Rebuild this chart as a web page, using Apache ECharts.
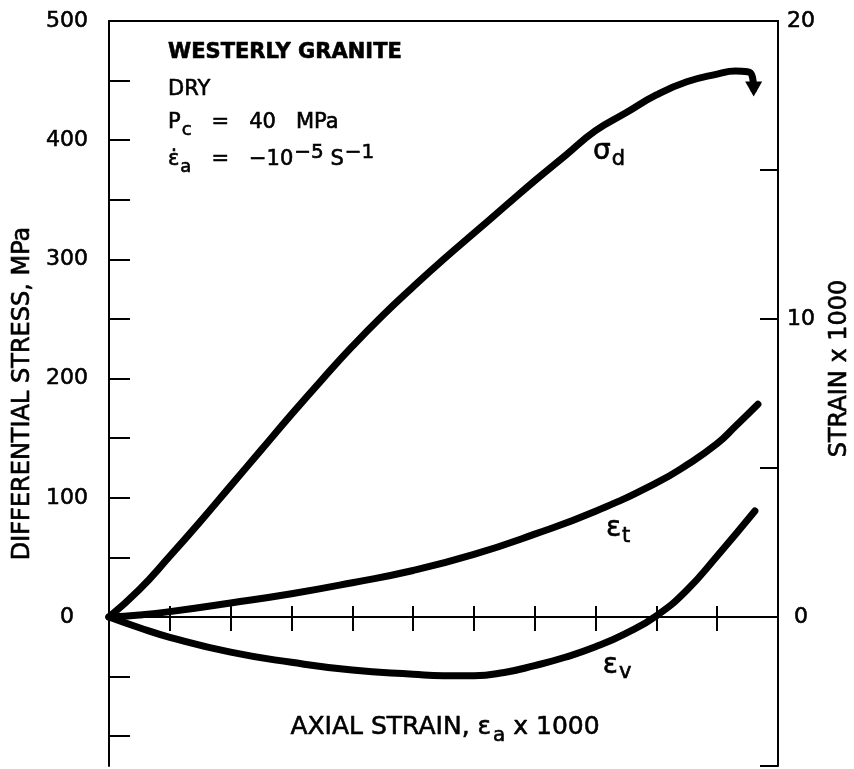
<!DOCTYPE html>
<html>
<head>
<meta charset="utf-8">
<script src="https://cdn.jsdelivr.net/npm/echarts@6/dist/echarts.min.js"></script>
<style>
  html, body { margin: 0; padding: 0; background: #fff; }
  #chart { width: 854px; height: 769px; }
</style>
</head>
<body>
<div id="chart"></div>
<script>
// Westerly granite, dry, Pc = 40 MPa: differential stress and strains vs axial strain (strains x 1000)

// Differential stress (MPa) against axial strain; the last point carries the failure arrow
const stressAxial  = [0, 0.5, 1, 1.5, 2, 2.5, 3, 3.5, 4, 4.5, 5, 5.5, 6, 6.5, 7, 7.5, 8, 8.5, 9, 9.5, 10, 10.3, 10.5, 10.58, 10.6];
const stressValues = [0, 23, 51, 80, 110, 140, 170, 199, 227, 253, 277, 300, 322, 344, 366, 387, 408, 423, 438, 449, 455.5, 458, 457.5, 453, 443];

// Lateral strain
const lateralAxial  = [0, 0.5, 1, 2, 3, 4, 5, 6, 7, 8, 9, 9.5, 10, 10.3, 10.67];
const lateralStrain = [0, 0.07, 0.18, 0.47, 0.78, 1.15, 1.56, 2.1, 2.78, 3.55, 4.5, 5.1, 5.82, 6.4, 7.14];

// Volumetric strain
const volumeAxial  = [0, 0.5, 1, 2, 3, 4, 5, 5.5, 6, 6.5, 7, 7.5, 8, 8.5, 9, 9.5, 10, 10.62];
const volumeStrain = [0, -0.36, -0.68, -1.18, -1.52, -1.78, -1.92, -1.97, -1.97, -1.86, -1.63, -1.35, -1.0, -0.55, 0.04, 0.9, 2.05, 3.56];

// Ticks and labels
const axialTicks   = [1, 2, 3, 4, 5, 6, 7, 8, 9, 10];
const axialLabels  = [5, 10];
const stressTicks  = [-100, -50, 0, 50, 100, 150, 200, 250, 300, 350, 400, 450];
const stressLabels = [0, 100, 200, 300, 400, 500];
const strainTicks  = [-5, 0, 5, 10, 15];
const strainLabels = [0, 10, 20];

const FONT = 'DejaVu Sans';
const INK = '#000';
const HEAVY = { textBorderColor: INK, textBorderWidth: 0.6 };
const axisStroke = { color: INK, width: 2 };
const tickText = Object.assign({ fontFamily: FONT, fontSize: 22, color: INK }, HEAVY);
const nameText = Object.assign({ fontFamily: FONT, fontSize: 24, color: INK }, HEAVY);

const pairs = (xs, ys) => xs.map((x, i) => [x, ys[i]]);

const stressData = pairs(stressAxial, stressValues).map((p, i, arr) =>
  i === arr.length - 1
    ? { value: p, symbol: 'triangle', symbolSize: [17, 15], symbolRotate: 180 }
    : p
);

const curveRich = {
  g: Object.assign({ fontFamily: FONT, fontSize: 28, color: INK }, HEAVY),
  s: Object.assign({ fontFamily: FONT, fontSize: 21, color: INK, padding: [14, 0, 0, 1] }, HEAVY)
};

function curveLabel(text, coord) {
  return {
    symbol: 'circle',
    symbolSize: 0,
    silent: true,
    animation: false,
    label: { show: true, position: 'right', distance: 0, formatter: text, rich: curveRich },
    data: [{ coord: coord }]
  };
}

const lineBase = {
  type: 'line',
  xAxisIndex: 0,
  smooth: 0.5,
  symbol: 'none',
  silent: true,
  animation: false,
  itemStyle: { color: INK },
  lineStyle: { color: INK, width: 7, cap: 'round', join: 'round' }
};

const gText = (extra) => Object.assign({ fontFamily: FONT, fill: INK, stroke: INK, lineWidth: 0.6 }, extra);

const option = {
  animation: false,
  backgroundColor: '#fff',
  grid: { left: 109, right: 76, top: 21, bottom: 3, containLabel: false, outerBoundsMode: 'none' },
  xAxis: [
    {
      type: 'value', min: 0, max: 11, position: 'bottom',
      axisLine: { show: true, onZero: true, onZeroAxisIndex: 0, lineStyle: axisStroke },
      axisTick: { show: true, inside: false, length: 14, lineStyle: axisStroke, customValues: axialTicks },
      axisLabel: Object.assign({ show: true, margin: 19, customValues: axialLabels }, tickText),
      splitLine: { show: false }
    },
    {
      // top border
      type: 'value', min: 0, max: 11, position: 'top',
      axisLine: { show: true, onZero: false, lineStyle: axisStroke },
      axisTick: { show: false }, axisLabel: { show: false }, splitLine: { show: false }
    },
    {
      // upper half of the crossing ticks on the zero line
      type: 'value', min: 0, max: 11, position: 'top',
      axisLine: { show: false, onZero: true, onZeroAxisIndex: 0 },
      axisTick: { show: true, inside: false, length: 11, lineStyle: axisStroke, customValues: axialTicks },
      axisLabel: { show: false }, splitLine: { show: false }
    }
  ],
  yAxis: [
    {
      type: 'value', min: -125, max: 500, position: 'left',
      axisLine: { show: true, onZero: false, lineStyle: axisStroke },
      axisTick: { show: true, inside: true, length: 21, lineStyle: axisStroke, customValues: stressTicks },
      axisLabel: Object.assign({ margin: 42, align: 'center', customValues: stressLabels }, tickText),
      splitLine: { show: false },
      name: 'DIFFERENTIAL STRESS, MPa',
      nameLocation: 'middle',
      nameGap: 59,
      nameTextStyle: nameText
    },
    {
      type: 'value', min: -5, max: 20, position: 'right',
      axisLine: { show: true, onZero: false, lineStyle: axisStroke },
      axisTick: { show: true, inside: true, length: 18, lineStyle: axisStroke, customValues: strainTicks },
      axisLabel: Object.assign({ margin: 23, align: 'center', customValues: strainLabels }, tickText),
      splitLine: { show: false },
      name: 'STRAIN x 1000',
      nameLocation: 'middle',
      nameGap: 50,
      nameTextStyle: Object.assign({}, nameText, { padding: [0, 0, 0, 50] })
    }
  ],
  graphic: [
    // axial strain axis title
    { type: 'text', x: 445, y: 727, silent: true,
      style: {
        text: '{t|AXIAL STRAIN, }{g|\u03b5}{s|a}{t| x 1000}', align: 'center', verticalAlign: 'middle',
        fill: INK,
        rich: {
          t: gText({ fontSize: 25 }),
          g: gText({ fontSize: 25 }),
          s: gText({ fontSize: 20, padding: [18, 0, 0, 2] })
        }
      } },
    { type: 'text', x: 168, y: 53, silent: true,
      style: gText({ text: 'WESTERLY GRANITE', fontSize: 21, fontWeight: 'bold', verticalAlign: 'middle' }) },
    { type: 'text', x: 168, y: 90, silent: true,
      style: gText({ text: 'DRY', fontSize: 21, verticalAlign: 'middle' }) },
    { type: 'text', x: 168, y: 123, silent: true,
      style: {
        text: '{t|P}{s|c}{t|   =   40   MPa}', fill: INK, verticalAlign: 'middle',
        rich: {
          t: gText({ fontSize: 21 }),
          s: gText({ fontSize: 18, padding: [15, 0, 0, 1] })
        }
      } },
    { type: 'text', x: 168, y: 160, silent: true,
      style: {
        text: '{t|\u03b5\u0307}{s|a}{t|   =   \u221210}{u|\u22125}{t| S}{u|\u22121}', fill: INK, verticalAlign: 'middle',
        rich: {
          t: gText({ fontSize: 21 }),
          s: gText({ fontSize: 18, padding: [14, 0, 0, 1] }),
          u: gText({ fontSize: 20, padding: [0, 0, 14, 1] })
        }
      } }
  ],
  series: [
    Object.assign({}, lineBase, {
      name: 'Differential stress',
      yAxisIndex: 0,
      data: stressData,
      markPoint: curveLabel('{g|\u03c3}{s|d}', [7.96, 390])
    }),
    Object.assign({}, lineBase, {
      name: 'Lateral strain',
      yAxisIndex: 1,
      data: pairs(lateralAxial, lateralStrain),
      markPoint: curveLabel('{g|\u03b5}{s|t}', [8.17, 2.95])
    }),
    Object.assign({}, lineBase, {
      name: 'Volumetric strain',
      yAxisIndex: 1,
      data: pairs(volumeAxial, volumeStrain),
      markPoint: curveLabel('{g|\u03b5}{s|v}', [8.12, -1.64])
    })
  ]
};

const chart = echarts.init(document.getElementById('chart'));
chart.setOption(option);
</script>
</body>
</html>
